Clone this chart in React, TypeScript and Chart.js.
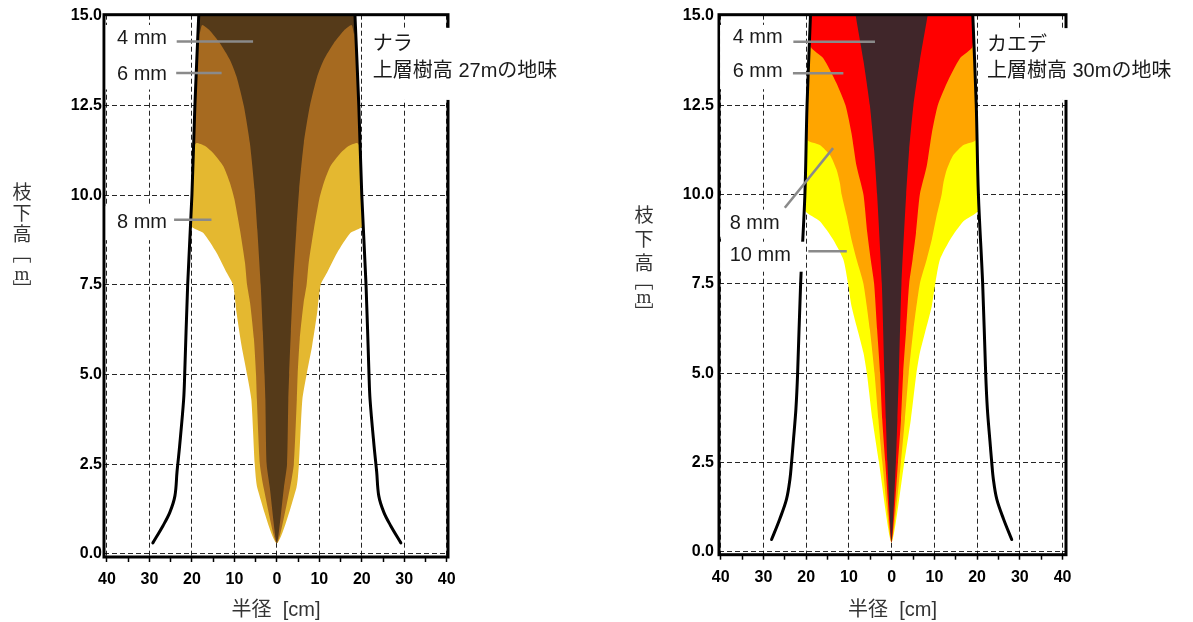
import React, { useEffect, useRef } from 'react';
import { Chart, registerables } from 'chart.js';

Chart.register(...registerables);

// ---------- axis ticks ----------
const xTickValues = [-40, -35, -30, -25, -20, -15, -10, -5, 0, 5, 10, 15, 20, 25, 30, 35, 40];
const yTickValues = [0, 2.5, 5, 7.5, 10, 12.5, 15];

// ---------- ナラ (left panel): radius [cm] / height [m] along each boundary, top -> bottom ----------
const naraOutlineR = [18.4, 19.3, 20.0, 21.0, 21.7, 21.95, 22.9, 23.5, 24.0, 25.2, 26.8, 29.2];
const naraOutlineH = [15.0, 12.5, 10.0, 7.5, 5.0, 4.3, 3.0, 2.3, 1.62, 1.16, 0.79, 0.31];
const nara8mmR = [20.1, 17.3, 14.2, 11.8, 10.3, 9.5, 8.3, 7.0, 6.0, 5.2, 4.6, 0];
const nara8mmH = [9.14, 8.95, 8.4, 7.84, 7.5, 6.73, 5.8, 5.0, 4.3, 2.5, 1.84, 0.3];
const nara6mmR = [19.7, 18.9, 17.0, 15.0, 12.6, 11.06, 10.0, 8.7, 7.5, 7.0, 6.3, 5.4, 4.9, 4.7, 4.0, 3.1, 0];
const nara6mmH = [11.36, 11.46, 11.38, 11.18, 10.81, 10.35, 9.9, 9.05, 8.12, 7.5, 7.0, 6.0, 5.0, 4.3, 2.5, 1.84, 0.3];
const nara4mmR = [18.2, 17.6, 16.0, 13.4, 11.06, 9.5, 7.76, 6.35, 5.25, 4.6, 3.8, 3.3, 2.9, 2.7, 2.4, 1.65, 0];
const nara4mmH = [14.5, 14.75, 14.62, 14.24, 13.78, 13.31, 12.48, 11.46, 10.16, 9.05, 7.5, 6.2, 5.0, 4.3, 2.5, 1.84, 0.3];

// ---------- カエデ (right panel) ----------
const kaedeOutlineR = [19.0, 19.8, 20.3, 21.3, 22.0, 22.4, 23.0, 23.4, 23.8, 24.6, 26.2, 28.1];
const kaedeOutlineH = [15.0, 12.5, 10.0, 7.5, 5.0, 4.0, 3.1, 2.53, 2.03, 1.47, 0.91, 0.34];
const kaede10mmR = [20.2, 16.8, 13.7, 11.3, 10.2, 9.4, 7.8, 6.6, 5.8, 4.5, 3.0, 0];
const kaede10mmH = [9.53, 9.25, 8.74, 8.18, 7.5, 6.88, 6.13, 5.57, 5.0, 3.71, 2.53, 0.26];
const kaede8mmR = [19.7, 16.8, 14.4, 12.9, 12.1, 11.7, 10.5, 9.4, 8.2, 6.6, 5.1, 4.0, 3.1, 2.2, 0];
const kaede8mmH = [11.53, 11.39, 11.1, 10.7, 10.32, 10.0, 9.39, 8.74, 8.18, 7.5, 6.22, 5.0, 3.71, 2.53, 0.26];
const kaede6mmR = [18.9, 16.0, 12.9, 10.8, 9.4, 8.2, 6.6, 5.7, 4.9, 4.1, 3.4, 2.7, 2.2, 1.5, 0];
const kaede6mmH = [14.13, 13.82, 13.12, 12.5, 11.72, 10.79, 10.0, 8.93, 8.18, 7.5, 6.22, 5.0, 3.71, 2.53, 0.26];
const kaede4mmR = [8.4, 6.6, 5.1, 4.1, 3.4, 2.3, 1.7, 1.35, 1.0, 0];
const kaede4mmH = [15.0, 13.75, 12.5, 11.25, 10.0, 7.5, 5.0, 3.71, 2.53, 0.26];

// ---------- leader lines (x pair, y pair) ----------
const naraLeaderX = [[-23.6, -5.6], [-24.0, -13.0], [-24.2, -15.4]];
const naraLeaderY = [[14.29, 14.29], [13.41, 13.41], [9.32, 9.32]];
const kaedeLeaderX = [[-23.0, -3.9], [-23.4, -11.3], [-25.0, -13.7], [-19.5, -10.5]];
const kaedeLeaderY = [[14.28, 14.28], [13.4, 13.4], [9.63, 11.3], [8.41, 8.41]];

// ---------- texts ----------
const naraLabels = ['4 mm', '6 mm', '8 mm'];
const kaedeLabels = ['4 mm', '6 mm', '8 mm', '10 mm'];
const naraNote = ['ナラ', '上層樹高 27mの地味'];
const kaedeNote = ['カエデ', '上層樹高 30mの地味'];
const yTitleChars = ['枝', '下', '高', '﹇', 'm', '﹈'];
const xTitle = '半径  [cm]';

// ---------- colours ----------
const naraColors = ['#553A19', '#A66A20', '#E4B830'];
const kaedeColors = ['#40262A', '#FF0000', '#FFA500', '#FFFF00'];

const SANS = '"Liberation Sans", Arial, "Noto Sans CJK JP", sans-serif';
const CJK = '"Noto Sans CJK JP", "Liberation Sans", sans-serif';

function region(outR: number[], outH: number[], bR: number[], bH: number[]) {
  const left: { x: number; y: number }[] = [];
  for (let i = 0; i < outR.length; i++) if (outH[i] > bH[0] + 0.01) left.push({ x: -outR[i], y: outH[i] });
  for (let i = 0; i < bR.length; i++) left.push({ x: -bR[i], y: bH[i] });
  const right = left.slice(0, -1).reverse().map((p) => ({ x: -p.x, y: p.y }));
  return left.concat(right);
}

function regionDs(points: any[], color: string) {
  return { data: points, fill: 'shape', backgroundColor: color, borderColor: 'transparent', borderWidth: 0, pointRadius: 0, tension: 0.2 };
}

function outlineDs(r: number[], h: number[], sign: number) {
  const pts = r.map((v, i) => ({ x: sign * v, y: h[i] }));
  return { data: pts, fill: false, borderColor: '#000', borderWidth: 3, pointRadius: 0, tension: 0.35, borderCapStyle: 'round', borderJoinStyle: 'round' };
}

function leaderDs(xs: number[], ys: number[]) {
  return { data: xs.map((v, i) => ({ x: v, y: ys[i] })), fill: false, borderColor: '#8a8a8a', borderWidth: 2.5, pointRadius: 0, tension: 0 };
}

type Spec = {
  left: number; width: number; xMin: number; xMax: number;
  area: { left: number; right: number; top: number; bottom: number };
  tickPadX: number; tickPadY: number;
  datasets: any[];
  boxes: number[][];
  texts: { t: string; x: number; y: number; font: string }[];
  yTitle: { cx: number; cy: number[] };
};

const naraSpec: Spec = {
  left: 0, width: 596, xMin: -40.7, xMax: 40.3,
  area: { left: 104, right: 448, top: 14.7, bottom: 557 },
  tickPadX: 8, tickPadY: 2,
  datasets: [
    ...naraLeaderX.map((xs, i) => leaderDs(xs, naraLeaderY[i])),
    outlineDs(naraOutlineR, naraOutlineH, -1),
    outlineDs(naraOutlineR, naraOutlineH, 1),
    regionDs(region(naraOutlineR, naraOutlineH, nara4mmR, nara4mmH), naraColors[0]),
    regionDs(region(naraOutlineR, naraOutlineH, nara6mmR, nara6mmH), naraColors[1]),
    regionDs(region(naraOutlineR, naraOutlineH, nara8mmR, nara8mmH), naraColors[2]),
  ],
  boxes: [[-40.3, -23.7, 12.95, 14.75], [-40.3, -24.3, 8.75, 9.7], [20.9, 71.5, 12.66, 14.67]],
  texts: [
    { t: naraLabels[0], x: -37.65, y: 14.37, font: '20px ' + SANS },
    { t: naraLabels[1], x: -37.65, y: 13.36, font: '20px ' + SANS },
    { t: naraLabels[2], x: -37.65, y: 9.24, font: '20px ' + SANS },
    { t: naraNote[0], x: 22.6, y: 14.25, font: '20px ' + CJK },
    { t: naraNote[1], x: 22.6, y: 13.44, font: '20px ' + SANS },
  ],
  yTitle: { cx: 22, cy: [191.5, 212.5, 234, 254, 275, 290] },
};

const kaedeSpec: Spec = {
  left: 596, width: 597, xMin: -40.4, xMax: 40.8,
  area: { left: 123, right: 470, top: 14.7, bottom: 554.7 },
  tickPadX: 8.5, tickPadY: 5,
  datasets: [
    ...kaedeLeaderX.map((xs, i) => leaderDs(xs, kaedeLeaderY[i])),
    outlineDs(kaedeOutlineR, kaedeOutlineH, -1),
    outlineDs(kaedeOutlineR, kaedeOutlineH, 1),
    regionDs(region(kaedeOutlineR, kaedeOutlineH, kaede4mmR, kaede4mmH), kaedeColors[0]),
    regionDs(region(kaedeOutlineR, kaedeOutlineH, kaede6mmR, kaede6mmH), kaedeColors[1]),
    regionDs(region(kaedeOutlineR, kaedeOutlineH, kaede8mmR, kaede8mmH), kaedeColors[2]),
    regionDs(region(kaedeOutlineR, kaedeOutlineH, kaede10mmR, kaede10mmH), kaedeColors[3]),
  ],
  boxes: [[-40.15, -23.1, 12.95, 14.75], [-40.15, -25.3, 8.82, 9.58], [-40.15, -20.1, 7.84, 8.68], [20.7, 70.6, 12.65, 14.66]],
  texts: [
    { t: kaedeLabels[0], x: -37.2, y: 14.39, font: '20px ' + SANS },
    { t: kaedeLabels[1], x: -37.2, y: 13.46, font: '20px ' + SANS },
    { t: kaedeLabels[2], x: -37.9, y: 9.2, font: '20px ' + SANS },
    { t: kaedeLabels[3], x: -37.9, y: 8.29, font: '20px ' + SANS },
    { t: kaedeNote[0], x: 22.3, y: 14.24, font: '20px ' + CJK },
    { t: kaedeNote[1], x: 22.3, y: 13.44, font: '20px ' + SANS },
  ],
  yTitle: { cx: 48, cy: [215, 239, 262.5, 281, 298, 313] },
};

function annotationPlugin(spec: Spec) {
  return {
    id: 'annot',
    afterDraw(chart: any) {
      const { ctx, chartArea: a } = chart;
      const sx = chart.scales.x;
      const sy = chart.scales.y;
      ctx.save();
      ctx.strokeStyle = '#000';
      ctx.lineWidth = 3;
      ctx.strokeRect(a.left, a.top, a.right - a.left, a.bottom - a.top);
      ctx.fillStyle = '#fff';
      for (const b of spec.boxes) {
        const x1 = sx.getPixelForValue(b[0]);
        const x2 = sx.getPixelForValue(b[1]);
        const y1 = sy.getPixelForValue(b[3]);
        const y2 = sy.getPixelForValue(b[2]);
        ctx.fillRect(x1, y1, x2 - x1, y2 - y1);
      }
      ctx.fillStyle = '#1a1a1a';
      ctx.textAlign = 'left';
      ctx.textBaseline = 'middle';
      for (const t of spec.texts) {
        ctx.font = t.font;
        ctx.fillText(t.t, sx.getPixelForValue(t.x), sy.getPixelForValue(t.y));
      }
      ctx.fillStyle = '#333';
      ctx.textAlign = 'center';
      yTitleChars.forEach((c, i) => {
        ctx.font = c === 'm' ? '19px "Liberation Serif", serif' : '19px ' + CJK;
        ctx.fillText(c, spec.yTitle.cx, spec.yTitle.cy[i]);
      });
      ctx.restore();
    },
  };
}

function Panel({ spec }: { spec: Spec }) {
  const ref = useRef<HTMLCanvasElement | null>(null);
  useEffect(() => {
    if (!ref.current) return;
    const tickFont = { family: SANS, size: 16, weight: 'bold' as const };
    const chart = new Chart(ref.current, {
      type: 'line',
      data: { datasets: spec.datasets },
      options: {
        animation: false,
        responsive: false,
        devicePixelRatio: 1,
        events: [],
        layout: { padding: { left: 0, top: spec.area.top, right: spec.width - spec.area.right, bottom: 0 } },
        plugins: { legend: { display: false }, tooltip: { enabled: false } },
        scales: {
          x: {
            type: 'linear',
            min: spec.xMin,
            max: spec.xMax,
            z: 1,
            afterBuildTicks: (s: any) => { s.ticks = xTickValues.map((v) => ({ value: v })); },
            afterFit: (s: any) => { s.height = 622 - spec.area.bottom; },
            ticks: {
              autoSkip: false,
              maxRotation: 0,
              padding: spec.tickPadX,
              color: '#000',
              font: tickFont,
              callback: (v: any) => (Number(v) % 10 === 0 ? String(Math.abs(Number(v))) : ''),
            },
            grid: {
              color: (c: any) => (c.tick && c.tick.value % 10 === 0 ? 'rgba(0,0,0,0.85)' : 'rgba(0,0,0,0)'),
              tickColor: '#000',
              tickLength: 5,
              tickWidth: 1.5,
              lineWidth: 1,
            },
            border: { display: false, dash: [5, 3] },
            title: { display: true, text: xTitle, color: '#333', font: { family: SANS, size: 20 }, padding: { top: 0, bottom: 0 } },
          },
          y: {
            type: 'linear',
            min: -0.084,
            max: 15.036,
            z: 1,
            afterBuildTicks: (s: any) => { s.ticks = yTickValues.map((v) => ({ value: v })); },
            afterFit: (s: any) => { s.width = spec.area.left; },
            ticks: {
              padding: spec.tickPadY,
              color: '#000',
              font: tickFont,
              callback: (v: any) => Number(v).toFixed(1),
            },
            grid: { color: 'rgba(0,0,0,0.85)', lineWidth: 1, drawTicks: false },
            border: { display: false, dash: [5, 3] },
          },
        },
      } as any,
      plugins: [annotationPlugin(spec)],
    });
    return () => chart.destroy();
  }, [spec]);
  return (
    <canvas
      ref={ref}
      width={spec.width}
      height={622}
      style={{ position: 'absolute', left: spec.left, top: 0, width: spec.width, height: 622 }}
    />
  );
}

export default function App() {
  return (
    <div style={{ position: 'fixed', left: 0, top: 0, width: 1193, height: 622, background: '#fff', overflow: 'hidden' }}>
      <Panel spec={naraSpec} />
      <Panel spec={kaedeSpec} />
    </div>
  );
}
